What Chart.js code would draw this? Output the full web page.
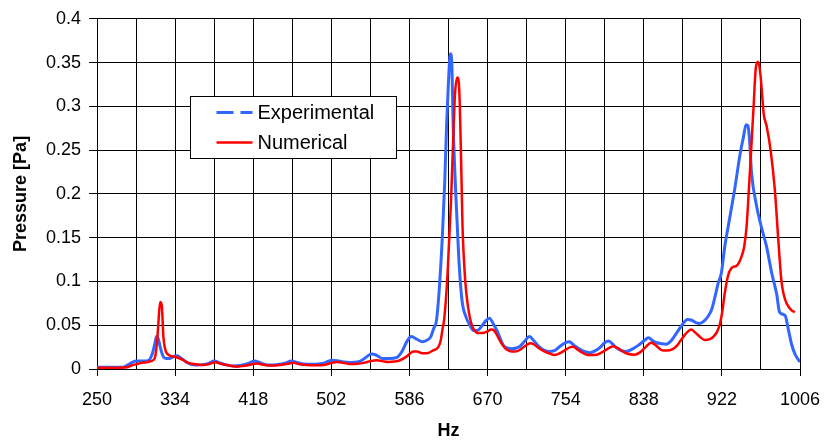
<!DOCTYPE html>
<html>
<head>
<meta charset="utf-8">
<script src="https://cdn.jsdelivr.net/npm/chart.js@4.4.1/dist/chart.umd.min.js"></script>
<style>
  html, body { margin: 0; padding: 0; background: #fff; }
  #wrap { width: 825px; height: 442px; }
</style>
</head>
<body>
<div id="wrap"><canvas id="chart" width="825" height="442"></canvas></div>
<script>
// tick values / labels
const xGridHz = [250, 292, 334, 376, 418, 460, 502, 544, 586, 628, 670, 712, 754, 796, 838, 880, 922, 964, 1006];
const xTickLabels = [250, 334, 418, 502, 586, 670, 754, 838, 922, 1006];
const yTickValues = [0, 0.05, 0.1, 0.15, 0.2, 0.25, 0.3, 0.35, 0.4];
const yTickLabels = ['0', '0.05', '0.1', '0.15', '0.2', '0.25', '0.3', '0.35', '0.4'];

// Experimental series
const expHz = [250, 270, 278, 285, 292, 300, 305, 309, 312, 314, 316, 318, 320.5, 324, 328, 332, 336, 341, 346, 352,
  357, 364, 370, 376, 382, 388, 396, 404, 412, 419, 426, 433, 440, 447, 453, 459, 465, 472, 480, 488,
  495, 502, 508, 515, 522, 530, 535, 540, 545, 550, 557, 565, 572, 578, 583, 588, 594, 600, 605, 609,
  612, 615, 618, 621.5, 624, 626, 628, 630, 631.5, 633, 636, 639, 642.5, 647, 651, 655, 659, 663, 668, 672,
  676, 680, 684, 687, 691, 696, 701, 705, 710, 715, 720, 725, 730, 736, 742, 748, 754, 758, 763, 768,
  774, 780, 786, 791, 796, 800, 804, 808, 814, 819, 826, 832, 838, 843, 848, 852, 857, 862, 868, 873,
  879, 885, 889, 894, 898, 903, 907, 911, 914.5, 918, 921.5, 925, 930.5, 936, 941.5, 945, 948, 950, 951.5, 954,
  959, 964.5, 970, 975.5, 981, 984, 990, 993.5, 997, 1001, 1006];
const expPa = [0.002, 0.002, 0.002, 0.006, 0.009, 0.009, 0.0095, 0.016, 0.028, 0.037, 0.034, 0.025, 0.016, 0.012, 0.012, 0.014, 0.015, 0.012, 0.008, 0.005,
  0.0045, 0.005, 0.0065, 0.009, 0.007, 0.005, 0.0035, 0.004, 0.006, 0.009, 0.007, 0.0045, 0.0045, 0.0055, 0.007, 0.009, 0.0075, 0.0057, 0.0055, 0.0058,
  0.007, 0.010, 0.0095, 0.008, 0.0075, 0.008, 0.010, 0.014, 0.017, 0.016, 0.012, 0.012, 0.013, 0.020, 0.031, 0.037, 0.034, 0.031, 0.033, 0.037,
  0.046, 0.055, 0.090, 0.154, 0.215, 0.280, 0.329, 0.360, 0.350, 0.280, 0.196, 0.128, 0.0785, 0.059, 0.050, 0.044, 0.044, 0.048, 0.055, 0.058,
  0.052, 0.044, 0.034, 0.027, 0.024, 0.023, 0.024, 0.026, 0.032, 0.037, 0.032, 0.026, 0.022, 0.020, 0.021, 0.026, 0.030, 0.031, 0.027, 0.0235,
  0.020, 0.0186, 0.021, 0.0247, 0.030, 0.032, 0.029, 0.0247, 0.021, 0.020, 0.023, 0.027, 0.032, 0.0356, 0.032, 0.030, 0.029, 0.0284, 0.033, 0.0406,
  0.050, 0.0565, 0.056, 0.053, 0.052, 0.055, 0.060, 0.068, 0.082, 0.098, 0.110, 0.139, 0.173, 0.207, 0.245, 0.264, 0.279, 0.278, 0.265, 0.223,
  0.188, 0.162, 0.140, 0.110, 0.085, 0.065, 0.061, 0.045, 0.028, 0.016, 0.008];

// Numerical series
const numHz = [250, 270, 282, 287, 293, 298, 303.5, 308, 312, 314.5, 316, 317.8, 319.6, 321.4, 323, 325, 329, 334, 339, 343,
  348, 353.6, 359, 364.4, 370, 377, 383, 389.5, 395, 400.3, 406, 411, 417, 422, 428, 436, 442, 447, 455, 461,
  468, 475.6, 485, 493.5, 501, 508, 515, 522, 530, 537, 544, 551, 557, 563, 570, 576, 584, 590, 594, 600,
  605, 611, 617, 619.5, 621.5, 623.5, 627, 630.7, 633, 635, 637.5, 639.5, 641.5, 643, 646, 649, 652.5, 656, 660, 665,
  670, 674, 677, 681, 684, 688, 691, 696, 700, 705, 710, 716, 720, 725, 731, 736, 742, 748, 754, 759,
  762, 767, 773, 778, 787, 793, 799, 805, 810, 814, 819, 828, 834, 840, 846, 851, 857, 863, 869, 874,
  878, 883, 889, 894, 898, 904, 909, 913, 917, 920, 922.5, 925, 929, 933, 938, 943, 946, 948.5, 952, 954,
  956, 958.5, 961, 963.5, 965.5, 967, 970, 974.5, 979, 982.5, 986, 988.5, 991.5, 996.9, 1000.5];
const numPa = [0.0015, 0.0015, 0.002, 0.004, 0.0057, 0.007, 0.0077, 0.009, 0.012, 0.030, 0.052, 0.0766, 0.073, 0.037, 0.024, 0.018, 0.015, 0.014, 0.012, 0.010,
  0.007, 0.0057, 0.005, 0.0045, 0.0055, 0.0076, 0.006, 0.0045, 0.0035, 0.0027, 0.0033, 0.004, 0.0055, 0.0064, 0.005, 0.004, 0.004, 0.0045, 0.006, 0.007,
  0.0055, 0.0045, 0.0043, 0.0045, 0.0065, 0.008, 0.007, 0.0057, 0.006, 0.007, 0.009, 0.010, 0.009, 0.008, 0.0085, 0.010, 0.015, 0.020, 0.020, 0.018,
  0.018, 0.021, 0.025, 0.032, 0.045, 0.058, 0.109, 0.192, 0.260, 0.314, 0.333, 0.320, 0.242, 0.166, 0.101, 0.071, 0.052, 0.044, 0.041, 0.041,
  0.043, 0.045, 0.044, 0.037, 0.031, 0.025, 0.022, 0.020, 0.020, 0.022, 0.026, 0.0295, 0.028, 0.024, 0.020, 0.018, 0.016, 0.018, 0.022, 0.025,
  0.0254, 0.022, 0.018, 0.016, 0.0163, 0.019, 0.023, 0.026, 0.024, 0.021, 0.018, 0.0163, 0.019, 0.025, 0.030, 0.027, 0.0216, 0.021, 0.0227, 0.027,
  0.033, 0.040, 0.045, 0.041, 0.037, 0.033, 0.034, 0.037, 0.043, 0.052, 0.066, 0.086, 0.108, 0.116, 0.118, 0.128, 0.140, 0.162, 0.223, 0.260,
  0.298, 0.344, 0.351, 0.336, 0.310, 0.291, 0.278, 0.249, 0.204, 0.150, 0.101, 0.085, 0.075, 0.067, 0.065];

const seriesNames = ['Experimental', 'Numerical'];
const seriesColors = ['#3366ff', '#ff0000'];

Chart.defaults.font.family = "'Liberation Sans', Arial, sans-serif";
Chart.defaults.color = '#000';

// legend box drawn inside the plot, like the original
const boxLegend = {
  id: 'boxLegend',
  afterDraw(chart) {
    const ctx = chart.ctx;
    const a = chart.chartArea;
    const x = Math.round(a.left + 93) + 0.5;
    const y = Math.round(a.top + 77) + 0.5;
    ctx.save();
    ctx.fillStyle = '#fff';
    ctx.strokeStyle = '#000';
    ctx.lineWidth = 1;
    ctx.fillRect(x, y, 206, 62);
    ctx.strokeRect(x, y, 206, 62);
    ctx.font = "20px 'Liberation Sans', Arial, sans-serif";
    ctx.textBaseline = 'middle';
    ctx.fillStyle = '#000';
    const rows = [y + 16, y + 46];
    rows.forEach((ry, i) => {
      ctx.beginPath();
      ctx.strokeStyle = seriesColors[i];
      ctx.lineWidth = i === 0 ? 3 : 2.5;
      ctx.setLineDash(i === 0 ? [17, 7] : []);
      ctx.moveTo(x + 26, ry);
      ctx.lineTo(x + 62, ry);
      ctx.stroke();
      ctx.setLineDash([]);
      ctx.fillText(seriesNames[i], x + 67, ry + 1);
    });
    ctx.restore();
  }
};

new Chart(document.getElementById('chart'), {
  type: 'line',
  data: {
    datasets: [
      {
        label: seriesNames[0],
        data: expHz.map((h, i) => ({ x: h, y: expPa[i] })),
        borderColor: seriesColors[0],
        borderWidth: 3,
        pointRadius: 0,
        cubicInterpolationMode: 'monotone',
        fill: false,
        order: 1
      },
      {
        label: seriesNames[1],
        data: numHz.map((h, i) => ({ x: h, y: numPa[i] })),
        borderColor: seriesColors[1],
        borderWidth: 2.5,
        pointRadius: 0,
        cubicInterpolationMode: 'monotone',
        fill: false,
        order: 0
      }
    ]
  },
  options: {
    responsive: false,
    animation: false,
    layout: { padding: { top: 17, right: 25, bottom: 0, left: 0 } },
    plugins: {
      legend: { display: false },
      tooltip: { enabled: false }
    },
    scales: {
      x: {
        type: 'linear',
        min: 250,
        max: 1006,
        afterBuildTicks: s => { s.ticks = xGridHz.map(v => ({ value: v })); },
        // fixed axis height; label overhang is covered by the layout padding
        afterFit: s => { s.height = 73; s.paddingLeft = 0; s.paddingRight = 0; },
        ticks: {
          autoSkip: false,
          maxRotation: 0,
          padding: 13,
          font: { size: 18 },
          color: '#000',
          callback: v => xTickLabels.includes(v) ? String(v) : ''
        },
        grid: {
          color: '#000',
          lineWidth: 1,
          tickLength: 7,
          tickColor: c => (c.tick && xTickLabels.includes(c.tick.value)) ? '#000' : 'rgba(0,0,0,0)'
        },
        border: { color: '#000', width: 1 },
        title: { display: true, text: 'Hz', font: { size: 18, weight: 'bold' }, padding: { top: 0, bottom: 0 } }
      },
      y: {
        min: 0,
        max: 0.4,
        afterBuildTicks: s => { s.ticks = yTickValues.map(v => ({ value: v })); },
        afterFit: s => { s.width = 97; },
        ticks: {
          padding: 8,
          font: { size: 18 },
          color: '#000',
          callback: (v, i) => yTickLabels[i]
        },
        grid: { color: '#000', lineWidth: 1, tickLength: 8 },
        border: { color: '#000', width: 1 },
        title: { display: true, text: 'Pressure [Pa]', font: { size: 18, weight: 'bold' }, padding: { top: 10, bottom: 0 } }
      }
    }
  },
  plugins: [boxLegend]
});
</script>
</body>
</html>
